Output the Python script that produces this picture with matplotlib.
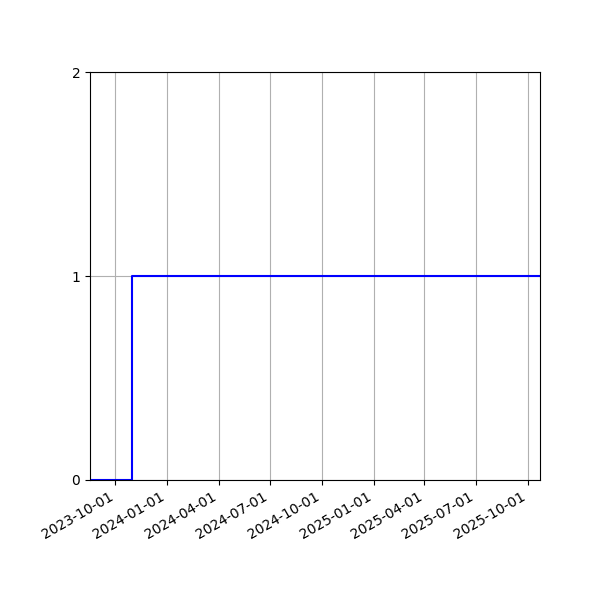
import matplotlib
matplotlib.use("Agg")
import matplotlib.pyplot as plt
import matplotlib.dates as mdates
import numpy as np

dates = np.array(["2023-08-17", "2023-10-30", "2025-10-23"], dtype="datetime64[D]")
values = [0, 1, 1]
yticks = [0, 1, 2]

fig, ax = plt.subplots(figsize=(6, 6), dpi=100)
ax.plot(dates, values, drawstyle="steps-post", color="blue", linewidth=1.5)
ax.set_xlim(dates[0], dates[-1])
ax.set_ylim(0, 2)
ax.set_yticks(yticks)
ax.xaxis.set_major_locator(mdates.MonthLocator(bymonth=[1, 4, 7, 10]))
ax.xaxis.set_major_formatter(mdates.DateFormatter("%Y-%m-%d"))
ax.grid(True)
fig.autofmt_xdate()
fig.subplots_adjust(left=0.15, right=0.9, bottom=0.2, top=0.88)
fig.savefig("out.png", dpi=100)
